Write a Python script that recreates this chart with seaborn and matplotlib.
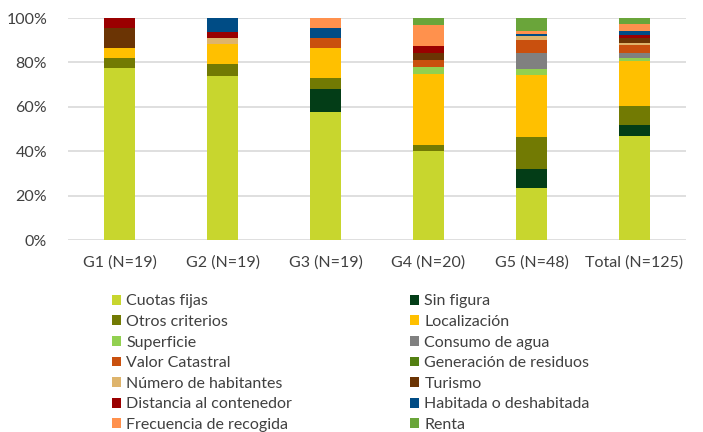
import numpy as np
import matplotlib
matplotlib.use("Agg")
import matplotlib.pyplot as plt
import seaborn as sns
from matplotlib.patches import Patch

# groups on the x axis
groups = ["G1 (N=19)", "G2 (N=19)", "G3 (N=19)", "G4 (N=20)", "G5 (N=48)", "Total (N=125)"]

# criteria, in stacking order (bottom -> top)
criteria = [
    "Cuotas fijas", "Sin figura", "Otros criterios", "Localización",
    "Superficie", "Consumo de agua", "Valor Catastral", "Generación de residuos",
    "Número de habitantes", "Turismo", "Distancia al contenedor",
    "Habitada o deshabitada", "Frecuencia de recogida", "Renta",
]

# share (%) per group, one list per criterion
cuotas_fijas = [77.3, 73.7, 57.7, 40.0, 23.3, 46.8]
sin_figura = [0.0, 0.0, 10.5, 0.0, 8.7, 5.0]
otros_criterios = [4.5, 5.8, 4.6, 3.0, 14.4, 8.4]
localizacion = [4.5, 8.6, 13.8, 31.6, 27.9, 20.3]
superficie = [0.0, 0.0, 0.0, 3.2, 2.7, 1.3]
consumo_agua = [0.0, 0.0, 0.0, 0.0, 7.2, 2.4]
valor_catastral = [0.0, 0.0, 4.4, 3.3, 5.7, 3.6]
generacion_residuos = [0.0, 0.0, 0.0, 0.0, 0.0, 0.0]
numero_habitantes = [0.0, 2.9, 0.0, 0.0, 1.8, 1.0]
turismo = [9.1, 0.0, 0.0, 3.0, 0.0, 2.0]
distancia_contenedor = [4.6, 2.9, 0.0, 3.1, 0.0, 1.4]
habitada = [0.0, 6.1, 4.3, 0.0, 1.3, 2.1]
frecuencia_recogida = [0.0, 0.0, 4.7, 9.6, 1.3, 3.0]
renta = [0.0, 0.0, 0.0, 3.2, 5.7, 2.7]

series = [
    cuotas_fijas, sin_figura, otros_criterios, localizacion, superficie,
    consumo_agua, valor_catastral, generacion_residuos, numero_habitantes,
    turismo, distancia_contenedor, habitada, frecuencia_recogida, renta,
]

colors = [
    "#C8D62E", "#033D17", "#727A03", "#FFC000", "#92D050", "#808080",
    "#C9500E", "#538012", "#DEB46C", "#6B3404", "#9A0000", "#004C85",
    "#FF914D", "#6AA53A",
]

sns.set_theme(style="white")
plt.rcParams["font.family"] = ["Lato", "DejaVu Sans"]

fig = plt.figure(figsize=(7.03, 4.32), dpi=100)
ax = fig.add_axes([68 / 703, 1 - 240 / 432, 618 / 703, 222 / 432])

bottom = np.zeros(len(groups))
for name, vals, c in zip(criteria, series, colors):
    sns.barplot(x=groups, y=vals, bottom=bottom, color=c, width=0.31,
                saturation=1, ax=ax, linewidth=0)
    bottom += np.array(vals)

ax.set_ylim(0, 100)
ax.set_xlim(-0.5, len(groups) - 0.5)
ax.set_yticks(range(0, 101, 20))
ax.set_yticklabels([f"{t}%" for t in range(0, 101, 20)])
ax.yaxis.grid(True, color="#D9D9D9", linewidth=1.2)
ax.set_axisbelow(True)
for s in ax.spines.values():
    s.set_visible(False)
ax.tick_params(axis="y", length=0, pad=15, labelsize=11.5, labelcolor="#404040")
ax.tick_params(axis="x", length=0, pad=11, labelsize=11.5, labelcolor="#404040")
ax.set_xlabel("")
ax.set_ylabel("")

# legend: two columns, filled row by row
handles = [Patch(facecolor=c, edgecolor="none") for c in colors]
col1 = list(range(0, 14, 2))
col2 = list(range(1, 14, 2))
for idx, x0 in [(col1, 112), (col2, 410)]:
    fig.legend([handles[i] for i in idx], [criteria[i] for i in idx],
               loc="upper left", bbox_to_anchor=(x0 / 703, 1 - 294.5 / 432),
               frameon=False, fontsize=11.5, labelcolor="#404040",
               handlelength=0.58, handleheight=0.58, handletextpad=0.32,
               labelspacing=0.41, borderpad=0, borderaxespad=0)

fig.savefig("out.png", dpi=100)
